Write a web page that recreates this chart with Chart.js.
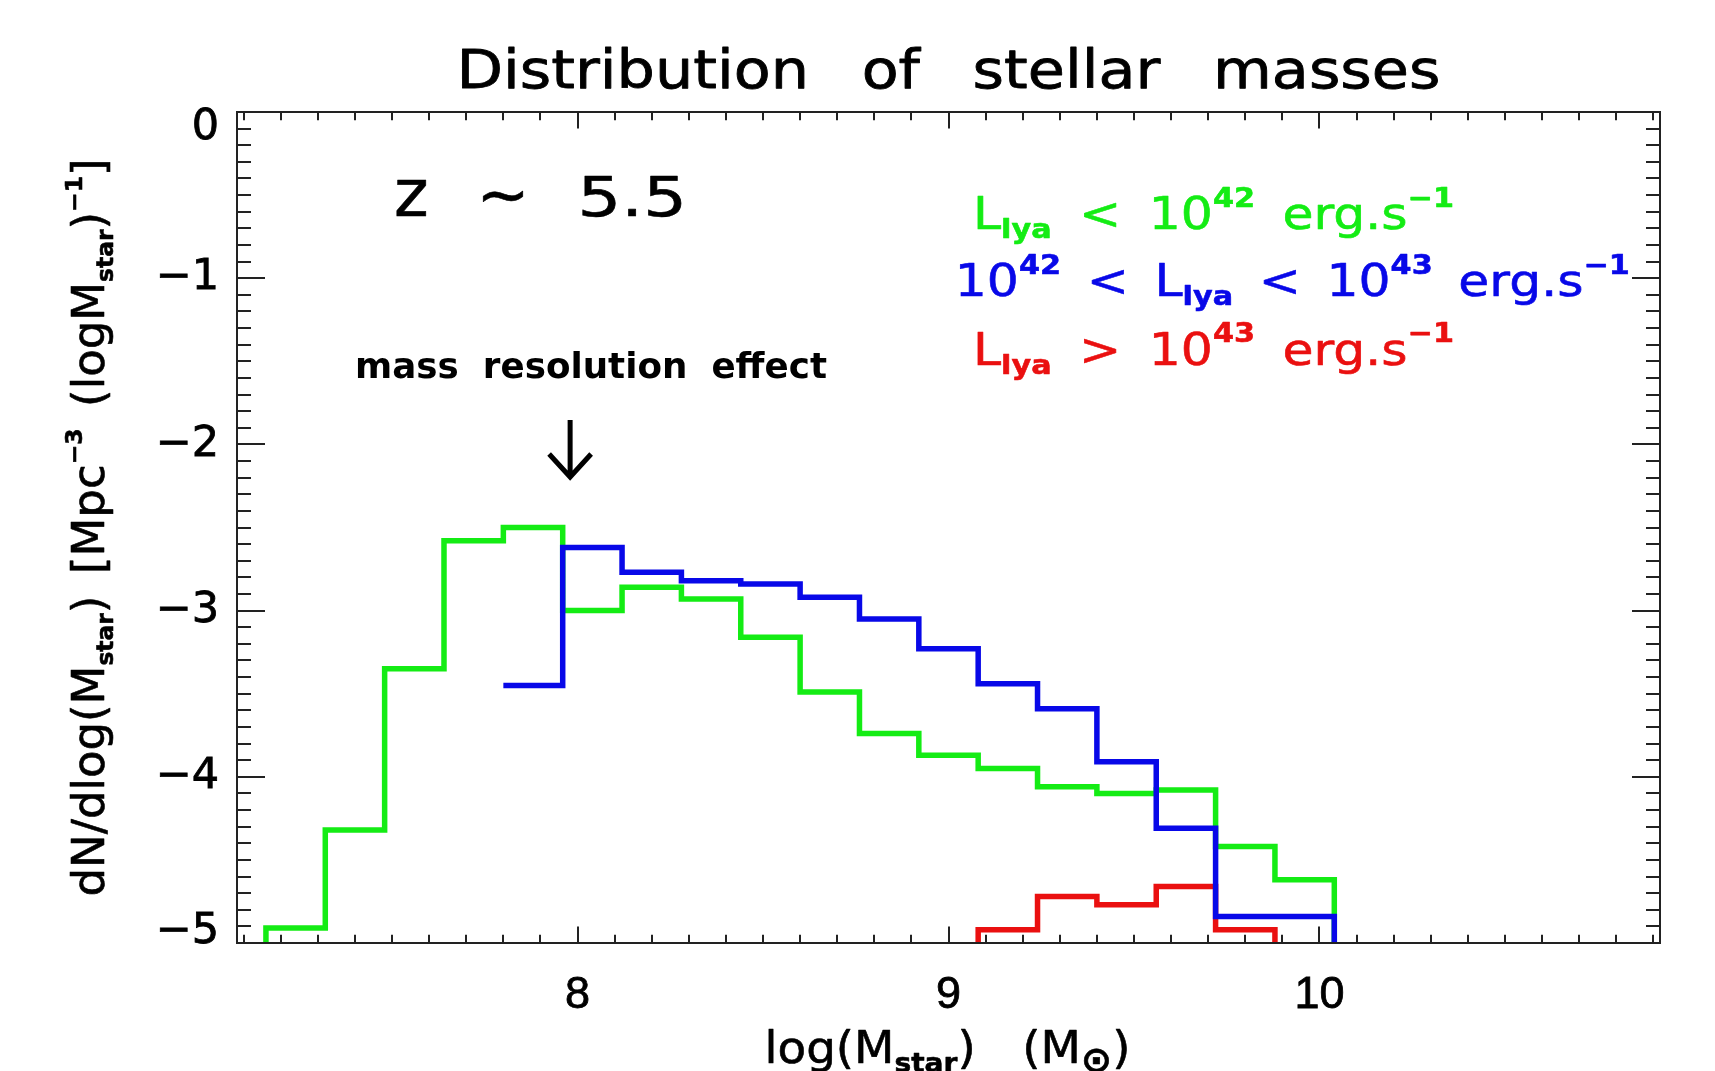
<!DOCTYPE html>
<html>
<head>
<meta charset="utf-8">
<script src="https://cdn.jsdelivr.net/npm/chart.js@4.4.1/dist/chart.umd.min.js"></script>
<style>
  html, body { margin: 0; padding: 0; background: #ffffff; }
  canvas { display: block; }
</style>
</head>
<body>
<canvas id="chart" width="1715" height="1071"></canvas>
<script>
// ---------------- data ----------------
const X_MIN = 7.082, X_MAX = 10.918;
const Y_MIN = -5, Y_MAX = 0;
const xTickValues = [8, 9, 10];
const yTickValues = [-5, -4, -3, -2, -1, 0];
const BIN_WIDTH = 0.16;

// left edges of histogram bins, log(M_star)
const greenBins = [7.16, 7.32, 7.48, 7.64, 7.80, 7.96, 8.12, 8.28, 8.44, 8.60, 8.76, 8.92, 9.08, 9.24, 9.40, 9.56, 9.72, 9.88];
const greenValues = [-4.91, -4.32, -3.35, -2.58, -2.50, -3.00, -2.86, -2.93, -3.16, -3.49, -3.74, -3.87, -3.95, -4.06, -4.10, -4.08, -4.42, -4.62];

const blueBins = [7.80, 7.96, 8.12, 8.28, 8.44, 8.60, 8.76, 8.92, 9.08, 9.24, 9.40, 9.56, 9.72, 9.88];
const blueValues = [-3.45, -2.62, -2.77, -2.82, -2.84, -2.92, -3.05, -3.23, -3.44, -3.59, -3.91, -4.31, -4.84, -4.84];

const redBins = [9.08, 9.24, 9.40, 9.56, 9.72];
const redValues = [-4.92, -4.72, -4.77, -4.66, -4.92];

// ---------------- styles ----------------
const GREEN = '#14ec14';
const BLUE = '#0808e8';
const RED = '#ea1010';
const INK = '#000000';
const FRAME = '#222222';
const TEXT_FONT = '"DejaVu Sans", "Liberation Sans", sans-serif';
const TICK_FONT_X = '"Liberation Sans", Arial, sans-serif';
const TICK_FONT_Y = '"DejaVu Sans", "Liberation Sans", sans-serif';
const FLOOR = Y_MIN - 0.2; // lines fall off the bottom of the axis

function stepPoints(lefts, values, fromFloor) {
  const pts = [];
  if (fromFloor) pts.push({ x: lefts[0], y: FLOOR });
  lefts.forEach((x, i) => pts.push({ x: x, y: values[i] }));
  pts.push({ x: lefts[lefts.length - 1] + BIN_WIDTH, y: FLOOR });
  return pts;
}

// ---------------- rich text helper ----------------
const HAS_WS = (() => {
  const c = document.createElement('canvas').getContext('2d');
  return ('wordSpacing' in c);
})();

function setTextState(ctx, font, ws) {
  if (HAS_WS) { ctx.letterSpacing = '0px'; ctx.wordSpacing = ws + 'px'; }
  ctx.font = '10px serif';
  ctx.font = font;
  if (HAS_WS) { ctx.letterSpacing = '0px'; ctx.wordSpacing = ws + 'px'; }
}

function drawRich(ctx, segs, o) {
  const subK = o.subK || 0.6;
  const parts = segs.map(s => {
    const small = s.sub || s.sup;
    const size = o.size * (small ? (s.subK || subK) : (s.k || 1));
    const weight = small ? 'bold' : (o.weight || 'normal');
    const font = weight + ' ' + size + 'px ' + TEXT_FONT;
    const dy = s.sub ? o.size * 0.2 : (s.sup ? -o.size * 0.5 : 0);
    const sx = (s.sx || 1) * (o.sx || 1);
    setTextState(ctx, font, 0);
    const w = ctx.measureText(s.t).width * sx;
    const spaceW = ctx.measureText(' ').width * sx;
    const sp = (s.t.match(/ /g) || []).length;
    return { t: s.t, font, dy, w, sp, spaceW, sx };
  });
  const sumW = parts.reduce((a, p) => a + p.w, 0);
  const SP = parts.reduce((a, p) => a + p.sp, 0);
  let ws = o.ws || 0;
  if (o.width && SP > 0) ws = (o.width - sumW) / SP;
  const total = sumW + SP * ws;
  const x0 = o.align === 'center' ? o.x - total / 2 : (o.align === 'right' ? o.x - total : o.x);
  ctx.save();
  ctx.fillStyle = o.color;
  ctx.strokeStyle = o.color;
  ctx.lineWidth = o.stroke || 0;
  ctx.lineJoin = 'round';
  ctx.textAlign = 'left';
  ctx.textBaseline = 'alphabetic';
  ctx.translate(x0, o.y);
  const paint = (t, x, y, sx) => {
    ctx.save();
    ctx.translate(x, y);
    if (sx !== 1) ctx.scale(sx, 1);
    ctx.fillText(t, 0, 0);
    if (o.stroke) ctx.strokeText(t, 0, 0);
    ctx.restore();
  };
  let cx = 0;
  parts.forEach(p => {
    const expected = p.w + p.sp * ws;
    setTextState(ctx, p.font, ws / p.sx);
    const measured = ctx.measureText(p.t).width * p.sx;
    if (HAS_WS && (p.sp === 0 || Math.abs(measured - expected) < 1)) {
      paint(p.t, cx, p.dy, p.sx);
    } else {
      // word spacing not honoured by the canvas: lay the words out one by one
      setTextState(ctx, p.font, 0);
      let x = cx;
      p.t.split(/( )/).forEach(tok => {
        if (tok === '') return;
        if (tok === ' ') { x += p.spaceW + ws; return; }
        paint(tok, x, p.dy, p.sx);
        x += ctx.measureText(tok).width * p.sx;
      });
    }
    cx += expected;
  });
  ctx.restore();
}

// ---------------- texts ----------------
const titleText = [{ t: 'Distribution of stellar masses' }];
const xTitle = [{ t: 'log(M' }, { t: 'star', sub: true }, { t: ') (M' }, { t: '\u2299', sub: true, subK: 0.8 }, { t: ')' }];
const yTitle = [{ t: 'dN/dlog(M' }, { t: 'star', sub: true }, { t: ') [Mpc' }, { t: '\u22123', sup: true },
                { t: ' (logM' }, { t: 'star', sub: true }, { t: ')' }, { t: '\u22121', sup: true }, { t: ']' }];
const redshiftText = [{ t: 'z', k: 1.2 }, { t: ' ' }, { t: '~', k: 1.15 }, { t: ' ' }, { t: '5.5', sx: 1.25 }];
const legendGreen = [{ t: 'L' }, { t: 'lya', sub: true }, { t: ' < 10' }, { t: '42', sup: true }, { t: ' erg.s' }, { t: '\u22121', sup: true }];
const legendBlue = [{ t: '10' }, { t: '42', sup: true }, { t: ' < L' }, { t: 'lya', sub: true }, { t: ' < 10' }, { t: '43', sup: true }, { t: ' erg.s' }, { t: '\u22121', sup: true }];
const legendRed = [{ t: 'L' }, { t: 'lya', sub: true }, { t: ' > 10' }, { t: '43', sup: true }, { t: ' erg.s' }, { t: '\u22121', sup: true }];
const noteText = [{ t: 'mass resolution effect' }];

// annotation anchors, in data coordinates
const noteAnchor = { x: 7.40, y: -1.603 };
const arrowMark = { x: 7.98, from: -1.853, to: -2.196 };
const redshiftAnchor = { x: 7.505, y: -0.623 };
const legendAnchors = [
  { x: 9.066, y: -0.705 },
  { x: 9.017, y: -1.11 },
  { x: 9.066, y: -1.52 }
];

const decorPlugin = {
  id: 'decor',
  afterDatasetsDraw(chart) {
    const { ctx, chartArea: ca, scales } = chart;
    const xs = scales.x, ys = scales.y;
    ctx.save();
    ctx.strokeStyle = FRAME;
    ctx.lineWidth = 2;
    ctx.strokeRect(ca.left, ca.top, ca.right - ca.left, ca.bottom - ca.top);
    ctx.beginPath();
    for (let k = Math.ceil(X_MIN * 10); k <= Math.floor(X_MAX * 10); k++) {
      const px = Math.round(xs.getPixelForValue(k / 10));
      const len = (k % 10 === 0) ? 16.5 : 8.3;
      ctx.moveTo(px, ca.bottom); ctx.lineTo(px, ca.bottom - len);
      ctx.moveTo(px, ca.top); ctx.lineTo(px, ca.top + len);
    }
    for (let k = Math.ceil(Y_MIN * 10); k <= Math.floor(Y_MAX * 10); k++) {
      const py = Math.round(ys.getPixelForValue(k / 10));
      const len = (k % 10 === 0) ? 28 : 14;
      ctx.moveTo(ca.left, py); ctx.lineTo(ca.left + len, py);
      ctx.moveTo(ca.right, py); ctx.lineTo(ca.right - len, py);
    }
    ctx.stroke();
    ctx.restore();
  },
  afterDraw(chart) {
    const { ctx, chartArea: ca, scales } = chart;
    const xs = scales.x, ys = scales.y;
    const cxMid = (ca.left + ca.right) / 2;
    const cyMid = (ca.top + ca.bottom) / 2;

    // title
    drawRich(ctx, titleText, { x: cxMid, y: ca.top - 24, size: 53, sx: 1.14, color: INK, align: 'center',
      width: 984, stroke: 0.8 });
    // redshift label
    drawRich(ctx, redshiftText, { x: xs.getPixelForValue(redshiftAnchor.x), y: ys.getPixelForValue(redshiftAnchor.y),
      size: 55, color: INK, align: 'left', width: 293, stroke: 0.6 });
    // legend
    const legends = [[legendGreen, GREEN, 481], [legendBlue, BLUE, 675], [legendRed, RED, 481]];
    legends.forEach((L, i) => {
      drawRich(ctx, L[0], { x: xs.getPixelForValue(legendAnchors[i].x), y: ys.getPixelForValue(legendAnchors[i].y),
        size: 45, sx: 1.12, color: L[1], align: 'left', width: L[2], stroke: 0.6 });
    });
    // note
    drawRich(ctx, noteText, { x: xs.getPixelForValue(noteAnchor.x), y: ys.getPixelForValue(noteAnchor.y),
      size: 35, sx: 1.02, weight: 'bold', color: INK, align: 'left', width: 472 });
    // arrow
    const ax = xs.getPixelForValue(arrowMark.x);
    const ay0 = ys.getPixelForValue(arrowMark.from);
    const ay1 = ys.getPixelForValue(arrowMark.to);
    ctx.save();
    ctx.strokeStyle = INK;
    ctx.lineWidth = 5;
    ctx.beginPath();
    ctx.moveTo(ax, ay0); ctx.lineTo(ax, ay1);
    ctx.moveTo(ax - 21, ay1 - 23); ctx.lineTo(ax, ay1); ctx.lineTo(ax + 21, ay1 - 23);
    ctx.stroke();
    ctx.restore();
    // axis titles
    drawRich(ctx, xTitle, { x: cxMid - 1, y: 1063, size: 45, sx: 1.04, color: INK, align: 'center',
      width: 366, stroke: 0.6 });
    ctx.save();
    ctx.translate(104, cyMid);
    ctx.rotate(-Math.PI / 2);
    drawRich(ctx, yTitle, { x: 0, y: 0, size: 45, subK: 0.52, color: INK, align: 'center',
      width: 738, stroke: 0.6 });
    ctx.restore();
  }
};

function fmtTick(v) {
  return v < 0 ? '\u2212' + Math.abs(v) : String(v);
}

const chart = new Chart(document.getElementById('chart'), {
  type: 'line',
  data: {
    datasets: [
      { label: '10^42 < Llya < 10^43 erg.s^-1', data: stepPoints(blueBins, blueValues, false),
        borderColor: BLUE, borderWidth: 5.5, order: 0 },
      { label: 'Llya > 10^43 erg.s^-1', data: stepPoints(redBins, redValues, true),
        borderColor: RED, borderWidth: 5.5, order: 1 },
      { label: 'Llya < 10^42 erg.s^-1', data: stepPoints(greenBins, greenValues, true),
        borderColor: GREEN, borderWidth: 5.5, order: 2 }
    ]
  },
  options: {
    responsive: false,
    devicePixelRatio: 1,
    animation: false,
    events: [],
    elements: {
      line: { stepped: true, tension: 0, fill: false, borderJoinStyle: 'miter', borderCapStyle: 'butt' },
      point: { radius: 0, hoverRadius: 0 }
    },
    datasets: { line: { clip: 0 } },
    layout: { padding: { left: 0, right: 55, top: 112, bottom: 0 } },
    plugins: { legend: { display: false }, tooltip: { enabled: false }, title: { display: false } },
    scales: {
      x: {
        type: 'linear', min: X_MIN, max: X_MAX,
        grid: { display: false, drawTicks: false },
        border: { display: false },
        afterBuildTicks: s => { s.ticks = xTickValues.map(v => ({ value: v })); },
        afterFit: s => { s.height = 128; },
        ticks: {
          autoSkip: false, maxRotation: 0, padding: 26, color: INK,
          textStrokeColor: INK, textStrokeWidth: 0.8,
          font: { family: TICK_FONT_X, size: 45, lineHeight: 1.2 },
          callback: v => fmtTick(v)
        }
      },
      y: {
        type: 'linear', min: Y_MIN, max: Y_MAX,
        grid: { display: false, drawTicks: false },
        border: { display: false },
        afterBuildTicks: s => { s.ticks = yTickValues.map(v => ({ value: v })); },
        afterFit: s => { s.width = 237; },
        ticks: {
          autoSkip: false, padding: 18, color: INK,
          textStrokeColor: INK, textStrokeWidth: 0.8,
          font: ctx => {
            const v = ctx.tick ? ctx.tick.value : null;
            let lh = 1.2;
            if (v === Y_MAX) lh = '32px';
            if (v === Y_MIN) lh = '22px';
            return { family: TICK_FONT_Y, size: 43, lineHeight: lh };
          },
          callback: v => {
            const s = fmtTick(v);
            if (v === Y_MAX) return ['', s];
            if (v === Y_MIN) return [s, ''];
            return s;
          }
        }
      }
    }
  },
  plugins: [decorPlugin]
});
</script>
</body>
</html>
